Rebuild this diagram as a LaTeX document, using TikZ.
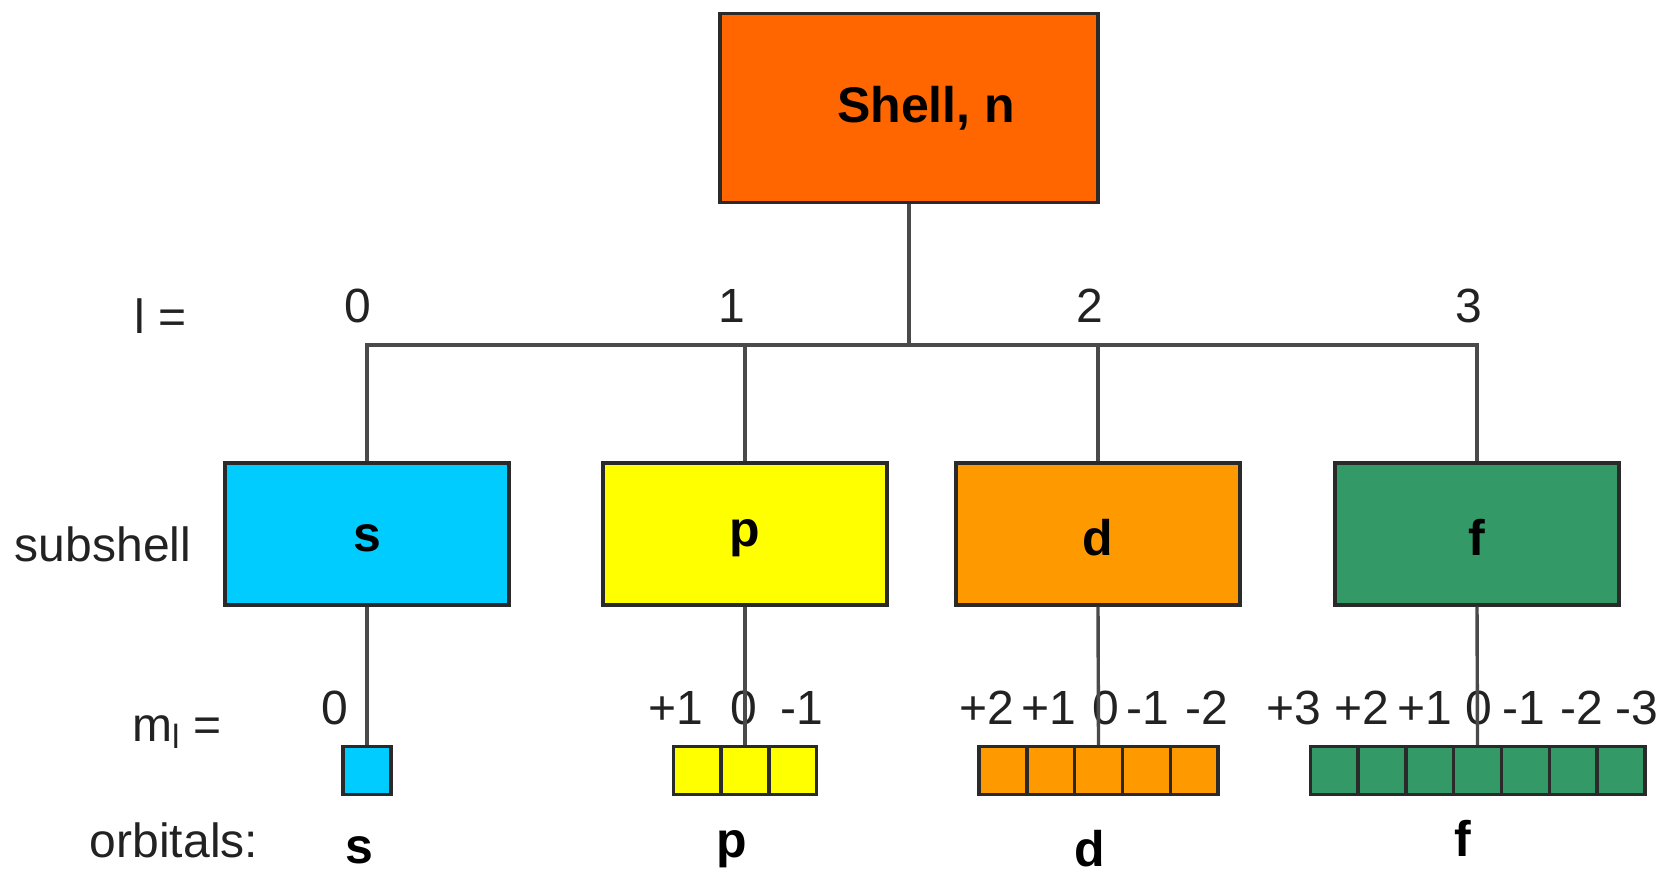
\documentclass[tikz,border=0pt]{standalone}
\usepackage{fontspec}
\setmainfont{Liberation Sans}
\definecolor{shellc}{HTML}{FF6600}
\definecolor{sc}{HTML}{00CCFF}
\definecolor{pc}{HTML}{FFFF00}
\definecolor{dc}{HTML}{FF9900}
\definecolor{fc}{HTML}{339966}
\definecolor{bordc}{HTML}{2A2A2A}
\definecolor{linec}{HTML}{4A4A4A}
\definecolor{txtc}{HTML}{222222}
\tikzset{
  box/.style={draw=bordc, line width=1.7pt, inner sep=0pt, font=\fontsize{25}{30}\selectfont\bfseries},
  subbox/.style={box, minimum width=142pt, minimum height=71pt},
  cell/.style={draw=bordc, line width=1.7pt, minimum size=23.9pt, inner sep=0pt},
  lbl/.style={font=\fontsize{24}{28}\selectfont, text=txtc, inner sep=0pt},
  orb/.style={font=\fontsize{25}{30}\selectfont\bfseries, inner sep=0pt},
  conn/.style={draw=linec, line width=1.7pt},
}
\begin{document}
\begin{tikzpicture}[x=0.5pt,y=-0.5pt]
\useasboundingbox (0,0) rectangle (1664,875);
% shell
\node[box, fill=shellc, minimum width=189pt, minimum height=94.5pt] (shell) at (909,108) {\hspace*{17pt}Shell, n};
\coordinate (bus) at (909,345);
% row labels
\node[lbl] (lrow) at (161,316) {l =};
\node[lbl] (subrow) at (103,544) {subshell};
\node[lbl] (mrow) at (177,732) {m\textsubscript{l} =};
\node[lbl] (orbrow) at (174,840) {orbitals:};
% l values
\node[lbl] (l0) at (358,306) {0};
\node[lbl] (l1) at (732,306) {1};
\node[lbl] (l2) at (1090,306) {2};
\node[lbl] (l3) at (1469,306) {3};
% subshells
\node[subbox, fill=sc, text height=17.5pt, text depth=0pt] (s) at (367,534) {s};
\node[subbox, fill=pc, text height=17.5pt, text depth=5.2pt] (p) at (745,534) {p};
\node[subbox, fill=dc, text height=21.5pt, text depth=0pt] (d) at (1098,534) {d};
\node[subbox, fill=fc, text height=21.5pt, text depth=0pt] (f) at (1477,534) {f};
% ml values
\node[lbl] (ms0) at (335,708) {0};
\node[lbl] (mp1) at (676,708) {+1};
\node[lbl] (mp0) at (744,708) {0};
\node[lbl] (mpm1) at (802,708) {-1};
\node[lbl] (md2) at (987,708) {+2};
\node[lbl] (md1) at (1049,708) {+1};
\node[lbl] (md0) at (1106,708) {0};
\node[lbl] (mdm1) at (1148,708) {-1};
\node[lbl] (mdm2) at (1207,708) {-2};
\node[lbl] (mf3) at (1294,708) {+3};
\node[lbl] (mf2) at (1362,708) {+2};
\node[lbl] (mf1) at (1425,708) {+1};
\node[lbl] (mf0) at (1479,708) {0};
\node[lbl] (mfm1) at (1524,708) {-1};
\node[lbl] (mfm2) at (1582,708) {-2};
\node[lbl] (mfm3) at (1637,708) {-3};
% orbital cells
\node[cell, fill=sc] (s1) at (367,770.5) {};
\foreach \i in {1,2,3} \node[cell, fill=pc] (p\i) at ({745+(\i-2)*47.8},770.5) {};
\foreach \i in {1,...,5} \node[cell, fill=dc] (d\i) at ({1098.5+(\i-3)*47.8},770.5) {};
\foreach \i in {1,...,7} \node[cell, fill=fc] (f\i) at ({1477.5+(\i-4)*47.8},770.5) {};
% orbital labels
\node[orb] (os) at (359,850) {s};
\node[orb] (op) at (732,849) {p};
\node[orb] (od) at (1090,849) {d};
\node[orb] (of) at (1463,838) {f};
% connectors
\draw[conn] (shell.south) -- (bus);
\draw[conn] (s.north) |- (bus);
\draw[conn] (p.north) |- (bus);
\draw[conn] (d.north) |- (bus);
\draw[conn] (f.north) |- (bus);
\draw[conn] (s.south) -- (s1.north);
\draw[conn] (p.south) -- (p2.north);
\draw[conn] (d.south) -- (d3.north);
\draw[conn] (f.south) -- (f4.north);
\end{tikzpicture}
\end{document}
